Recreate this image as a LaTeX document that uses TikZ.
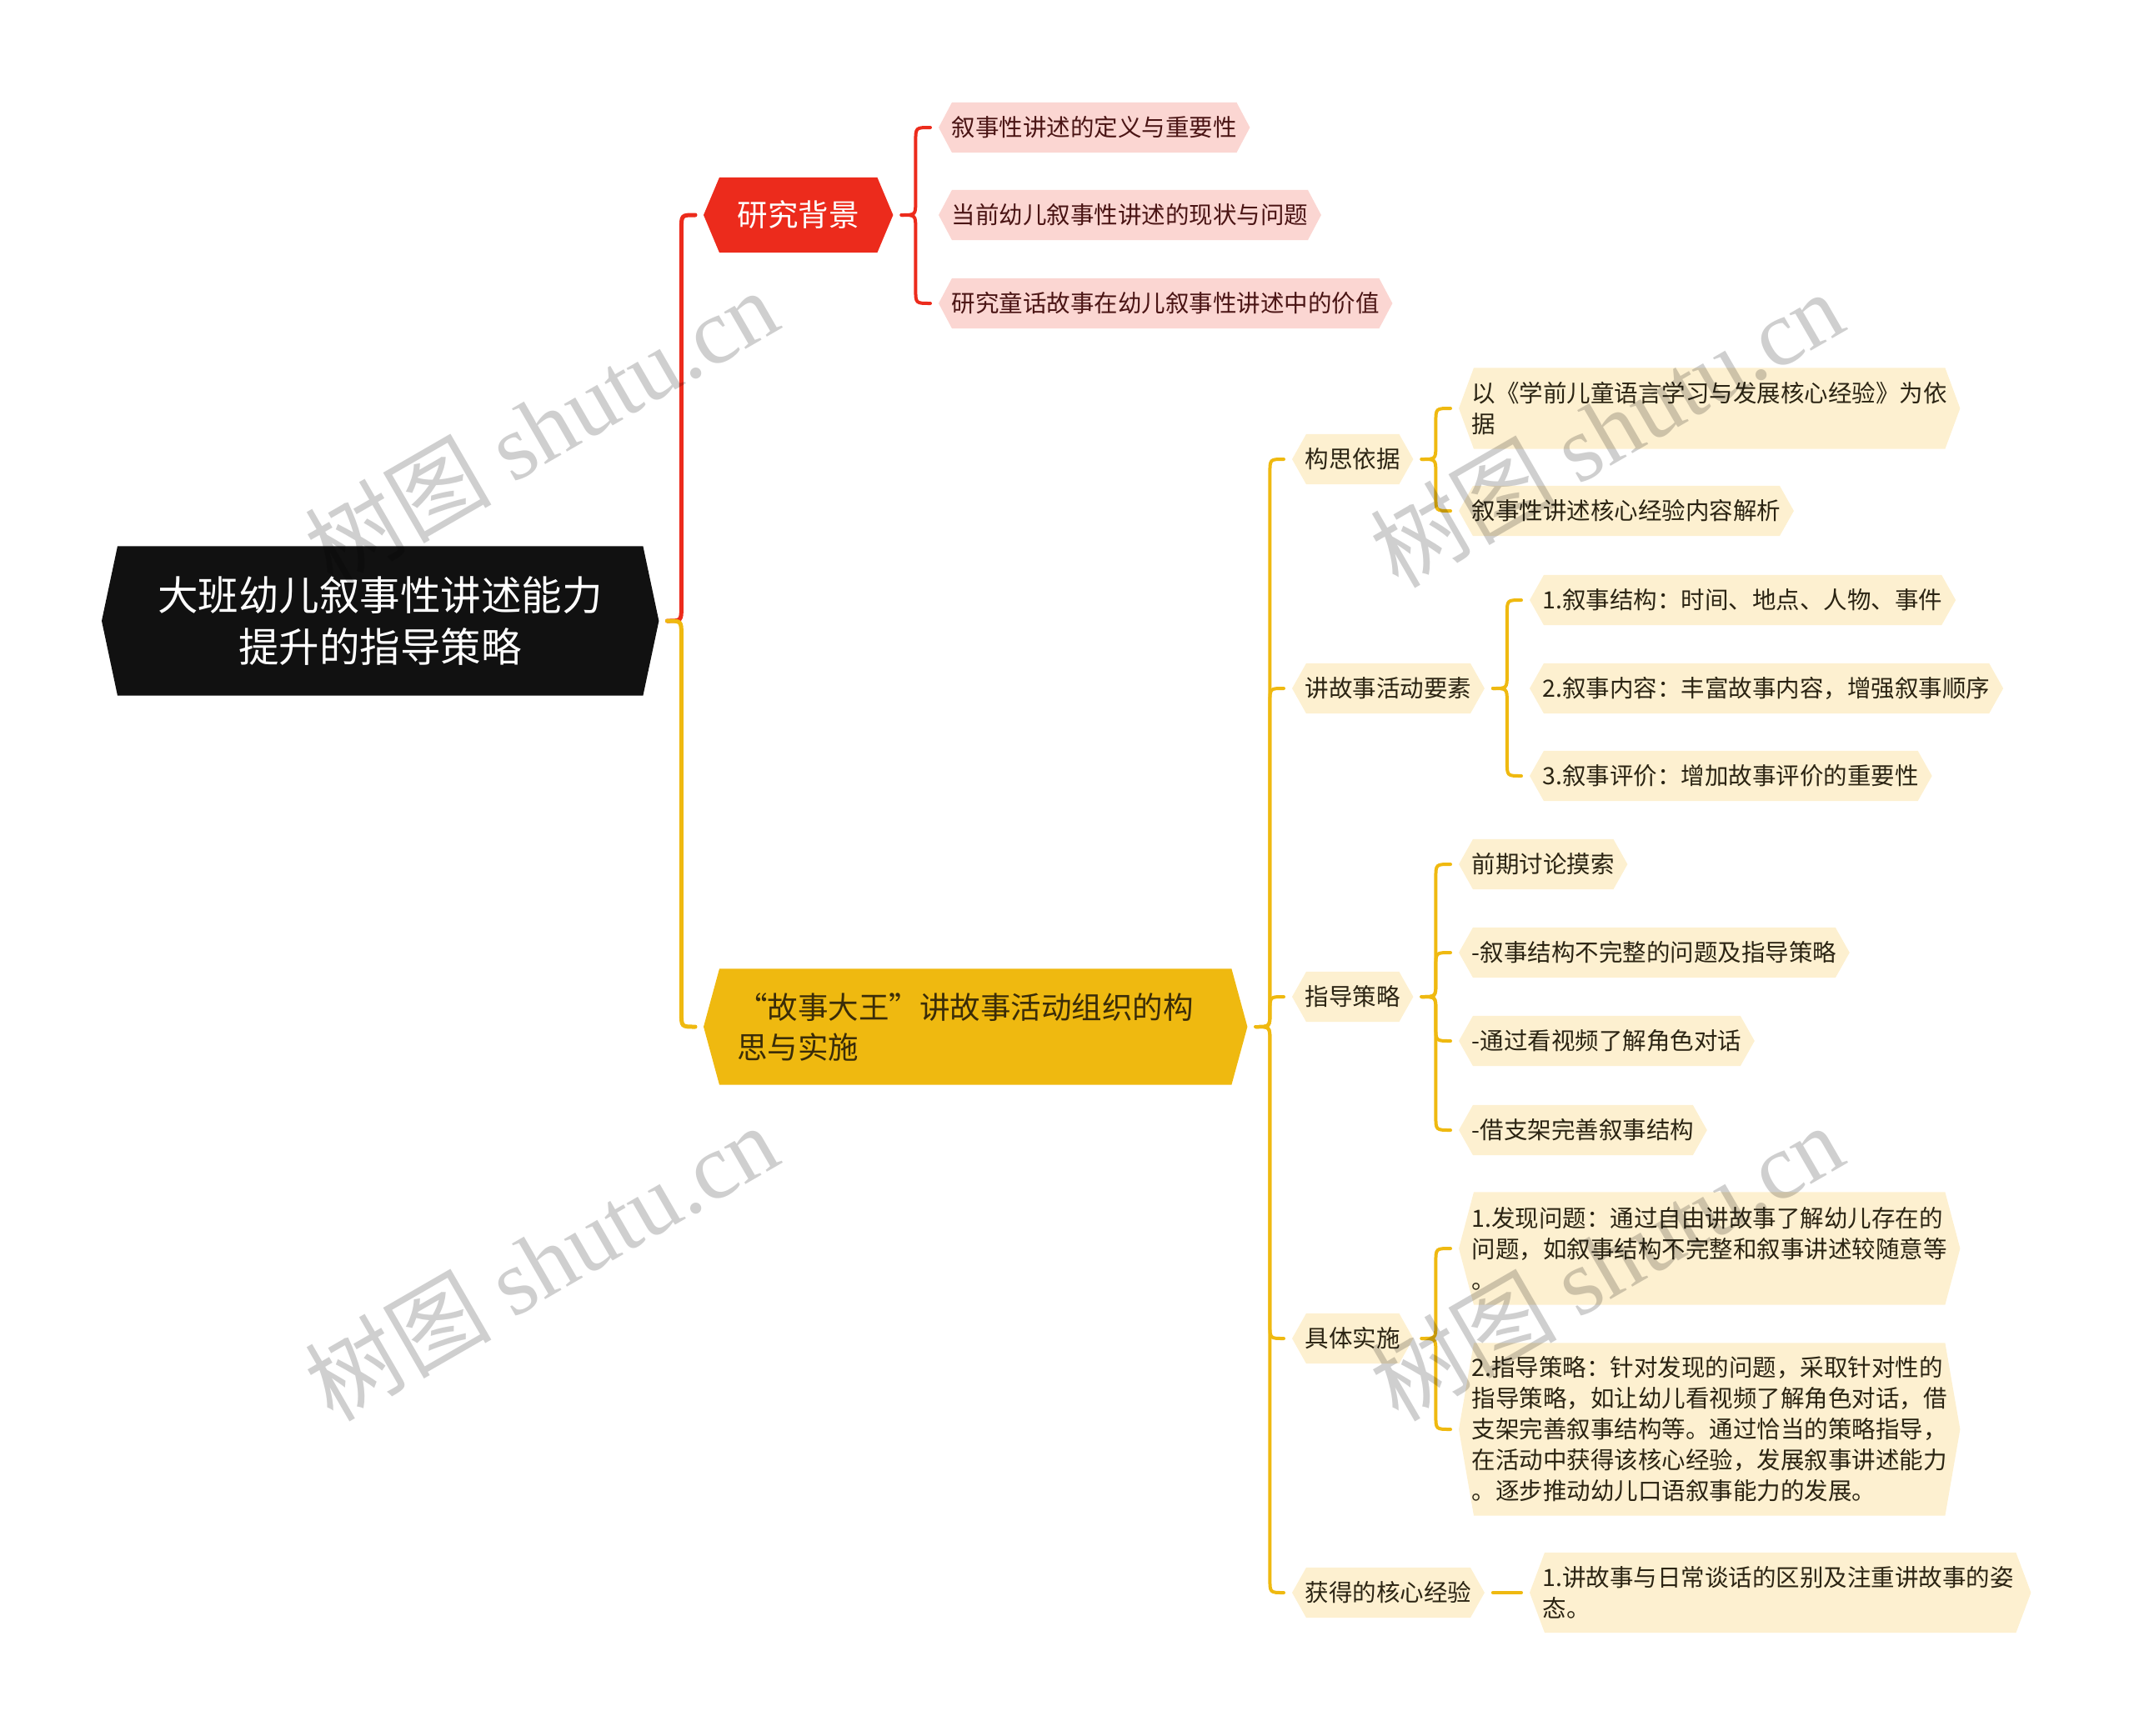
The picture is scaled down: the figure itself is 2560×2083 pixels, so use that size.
\documentclass[tikz,border=0pt]{standalone}
\usepackage{fontspec}
\setmainfont{Noto Sans CJK SC}
\newfontfamily\wmlatin{Liberation Serif}
\usetikzlibrary{calc,backgrounds}
\definecolor{cRed}{HTML}{EC2B1C}
\definecolor{cYel}{HTML}{EFB910}
\definecolor{cPink}{HTML}{FBD6D2}
\definecolor{cPale}{HTML}{FDF0D0}
\definecolor{cRoot}{HTML}{111111}
\definecolor{tPink}{HTML}{4A1414}
\definecolor{tPale}{HTML}{2B2413}
\definecolor{tYel}{HTML}{3A2C08}
\tikzset{
  rootnode/.style={anchor=west, text=white, font=\fontsize{48.5}{62}\selectfont,
    align=center, minimum width=668pt, minimum height=179pt, inner sep=0pt},
  redmain/.style={anchor=west, text=white, font=\fontsize{36.5}{48}\selectfont,
    minimum width=227pt, minimum height=90pt, inner sep=0pt},
  yelmain/.style={anchor=west, text=tYel, font=\fontsize{36.5}{48}\selectfont,
    align=left, text width=572pt, inner xsep=40pt, inner ysep=0pt, minimum height=139pt},
  leaf/.style={anchor=west, font=\fontsize{28.5}{37}\selectfont, align=left,
    inner xsep=15.5pt, inner ysep=0pt, minimum height=60pt},
  pinkleaf/.style={leaf, text=tPink},
  paleleaf/.style={leaf, text=tPale},
  wideleaf/.style={paleleaf, text width=570pt},
  mainline/.style={line width=5pt, line cap=round},
  subline/.style={line width=4pt, line cap=round},
  wm/.style={text=black, text opacity=0.19, font=\fontsize{112}{112}\selectfont, inner sep=0pt}
}
\newcommand\bup[3]{\draw[#3] (#1.east) ++(10pt,0) coordinate (tj)
  .. controls ($(tj)+(17pt,0)$) .. ($(tj)+(17pt,17pt)$)
  -- ($(tj |- #2.west)+(17pt,-17pt)$)
  .. controls ($(tj |- #2.west)+(17pt,0)$) .. ($(#2.west)+(-10pt,0)$);}
\newcommand\bdown[3]{\draw[#3] (#1.east) ++(10pt,0) coordinate (tj)
  .. controls ($(tj)+(17pt,0)$) .. ($(tj)+(17pt,-17pt)$)
  -- ($(tj |- #2.west)+(17pt,17pt)$)
  .. controls ($(tj |- #2.west)+(17pt,0)$) .. ($(#2.west)+(-10pt,0)$);}
\begin{document}
\begin{tikzpicture}[x=1pt, y=-1pt]
\useasboundingbox (0,0) rectangle (2560,2083);

% root and main branches
\node[rootnode] (root) at (122,745) {大班幼儿叙事性讲述能力\\提升的指导策略};
\node[redmain] (bg) at (844,258) {研究背景};
\node[yelmain] (gs) at (844,1232) {“故事大王”讲故事活动组织的构\\思与实施};

% red leaves
\node[pinkleaf] (r1) at (1126,153) {叙事性讲述的定义与重要性};
\node[pinkleaf] (r2) at (1126,258) {当前幼儿叙事性讲述的现状与问题};
\node[pinkleaf] (r3) at (1126,364) {研究童话故事在幼儿叙事性讲述中的价值};

% yellow sub nodes
\node[paleleaf] (s1) at (1550,551) {构思依据};
\node[paleleaf] (s2) at (1550,826) {讲故事活动要素};
\node[paleleaf] (s3) at (1550,1196) {指导策略};
\node[paleleaf] (s4) at (1550,1606) {具体实施};
\node[paleleaf] (s5) at (1550,1911) {获得的核心经验};

% yellow leaves
\node[wideleaf, minimum height=97pt] (s1a) at (1750,490) {以《学前儿童语言学习与发展核心经验》为依\\据};
\node[paleleaf] (s1b) at (1750,613) {叙事性讲述核心经验内容解析};
\node[paleleaf] (s2a) at (1835,720) {1.叙事结构：时间、地点、人物、事件};
\node[paleleaf] (s2b) at (1835,826) {2.叙事内容：丰富故事内容，增强叙事顺序};
\node[paleleaf] (s2c) at (1835,931) {3.叙事评价：增加故事评价的重要性};
\node[paleleaf] (s3a) at (1750,1037) {前期讨论摸索};
\node[paleleaf] (s3b) at (1750,1143) {-叙事结构不完整的问题及指导策略};
\node[paleleaf] (s3c) at (1750,1249) {-通过看视频了解角色对话};
\node[paleleaf] (s3d) at (1750,1356) {-借支架完善叙事结构};
\node[wideleaf, minimum height=135pt] (s4a) at (1750,1498) {1.发现问题：通过自由讲故事了解幼儿存在的\\问题，如叙事结构不完整和叙事讲述较随意等\\。};
\node[wideleaf, minimum height=207pt] (s4b) at (1750,1715) {2.指导策略：针对发现的问题，采取针对性的\\指导策略，如让幼儿看视频了解角色对话，借\\支架完善叙事结构等。通过恰当的策略指导，\\在活动中获得该核心经验，发展叙事讲述能力\\。逐步推动幼儿口语叙事能力的发展。};
\node[wideleaf, minimum height=96pt] (s5a) at (1835,1911) {1.讲故事与日常谈话的区别及注重讲故事的姿\\态。};

% hexagon backgrounds
\begin{pgfonlayer}{background}
\foreach \n/\c/\i in {root/cRoot/19pt, bg/cRed/19pt, gs/cYel/19pt,
  r1/cPink/16pt, r2/cPink/16pt, r3/cPink/16pt,
  s1/cPale/17pt, s2/cPale/17pt, s3/cPale/17pt, s4/cPale/17pt, s5/cPale/17pt,
  s1a/cPale/18pt, s1b/cPale/17pt, s2a/cPale/17pt, s2b/cPale/17pt, s2c/cPale/17pt,
  s3a/cPale/17pt, s3b/cPale/17pt, s3c/cPale/17pt, s3d/cPale/17pt,
  s4a/cPale/18pt, s4b/cPale/18pt, s5a/cPale/18pt}{
  \fill[\c] ([xshift=\i]\n.north west) -- ([xshift=-\i]\n.north east) -- (\n.east)
    -- ([xshift=-\i]\n.south east) -- ([xshift=\i]\n.south west) -- (\n.west) -- cycle;
}
\end{pgfonlayer}

% connectors
\bup{root}{bg}{mainline, cRed}
\bdown{root}{gs}{mainline, cYel}
\bup{bg}{r1}{subline, cRed}
\bdown{bg}{r3}{subline, cRed}
\bup{gs}{s1}{subline, cYel}
\bup{gs}{s2}{subline, cYel}
\bup{gs}{s3}{subline, cYel}
\bdown{gs}{s4}{subline, cYel}
\bdown{gs}{s5}{subline, cYel}
\bup{s1}{s1a}{subline, cYel}
\bdown{s1}{s1b}{subline, cYel}
\bup{s2}{s2a}{subline, cYel}
\bdown{s2}{s2c}{subline, cYel}
\bup{s3}{s3a}{subline, cYel}
\bup{s3}{s3b}{subline, cYel}
\bdown{s3}{s3c}{subline, cYel}
\bdown{s3}{s3d}{subline, cYel}
\bup{s4}{s4a}{subline, cYel}
\bdown{s4}{s4b}{subline, cYel}
\draw[subline, cYel] ($(s5.east)+(10pt,0)$) -- ($(s5a.west)+(-10pt,0)$);

% watermarks
\node[wm, rotate=30] (wm1) at (649,512) {树图 {\wmlatin shutu.cn}};
\node[wm, rotate=30] (wm2) at (1927,514) {树图 {\wmlatin shutu.cn}};
\node[wm, rotate=30] (wm3) at (649,1514) {树图 {\wmlatin shutu.cn}};
\node[wm, rotate=30] (wm4) at (1927,1514) {树图 {\wmlatin shutu.cn}};
\end{tikzpicture}
\end{document}
